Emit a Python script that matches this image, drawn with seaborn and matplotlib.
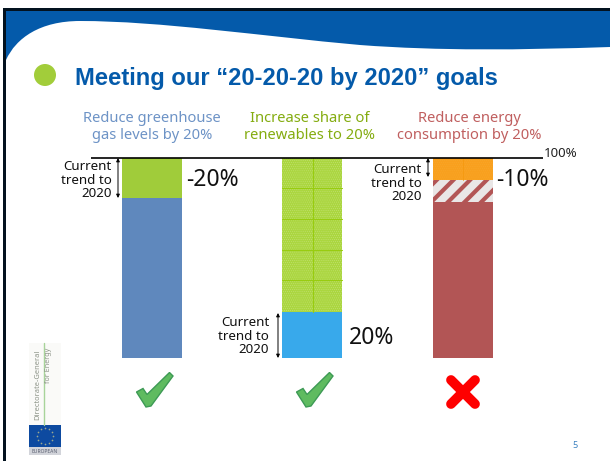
import numpy as np
import seaborn as sns
import matplotlib.pyplot as plt
from matplotlib.path import Path
from matplotlib.patches import PathPatch, Ellipse, Rectangle

# chart values, percent of the 100% line
goal_names = ["Reduce greenhouse\ngas levels by 20%", "Increase share of\nrenewables to 20%", "Reduce energy\nconsumption by 20%"]
base_values = [80, 23, 78]
striped_values = [0, 0, 11]
top_values = [20, 77, 11]
change_labels = ["-20%", "20%", "-10%"]
trend_label = "Current\ntrend to\n2020"

BLUE = "#045aaa"
GOAL_COLORS = ["#6d93c6", "#84ac10", "#c05f5f"]
BASE_COLORS = ["#5f88bd", "#38a9eb", "#b25555"]
TOP_COLORS = ["#a0cc3a", "#abd640", "#f9a01e"]
BAR_CENTERS = [152, 312, 463]

sns.set_theme(style="white")
plt.rcParams['font.family'] = ['Noto Sans', 'DejaVu Sans']

fig = plt.figure(figsize=(6.10, 4.61), dpi=100)

# bar axes: x runs in figure pixels, y in percent (100% at y=158px, 0 at y=358px)
ax = fig.add_axes([0, (461 - 358) / 461, 1, 200 / 461])

for i, center in enumerate(BAR_CENTERS):
	sns.barplot(x=[center], y=[base_values[i]], color=BASE_COLORS[i], saturation=1, width=60, native_scale=True, linewidth=0, ax=ax)
	if striped_values[i] > 0:
		sns.barplot(x=[center], y=[striped_values[i]], bottom=base_values[i], color="#e9e6e6", saturation=1, width=60, native_scale=True,
					linewidth=0, edgecolor="#b25555", hatch="//", ax=ax)
		ax.patches[-1].set_hatch_linewidth(3.0)
	sns.barplot(x=[center], y=[top_values[i]], bottom=base_values[i] + striped_values[i], color=TOP_COLORS[i], saturation=1, width=60,
				native_scale=True, linewidth=0, ax=ax)
	top = ax.patches[-1]
	if i == 1:
		top.set_hatch("........")
		top.set_edgecolor("#c6e47a")
		top.set_hatch_linewidth(0.3)
	if i == 2:
		top.set_hatch("........")
		top.set_edgecolor("#f7a82e")
		top.set_hatch_linewidth(0.3)
ax.set_xlim(0, 610)
ax.set_ylim(0, 100)
ax.axis("off")

# overlay in pixel coordinates for the slide furniture and labels
ov = fig.add_axes([0, 0, 1, 1], facecolor="none")
ov.set_xlim(0, 610)
ov.set_ylim(461, 0)
ov.axis("off")

# slide frame and wave
ov.add_patch(Rectangle((3, 8), 607, 3, color="#03121f", lw=0))
ov.add_patch(Rectangle((3, 8), 3, 453, color="#03121f", lw=0))
wave = Path(
	[(6, 11), (610, 11), (610, 47), (520, 50), (440, 51), (360, 45), (260, 36), (160, 21), (80, 21), (40, 21), (16, 38), (6, 60), (6, 11), (6, 11)],
	[Path.MOVETO, Path.LINETO, Path.LINETO, Path.CURVE4, Path.CURVE4, Path.CURVE4, Path.CURVE4, Path.CURVE4, Path.CURVE4, Path.CURVE4, Path.CURVE4, Path.CURVE4, Path.LINETO, Path.CLOSEPOLY],
)
ov.add_patch(PathPatch(wave, facecolor=BLUE, lw=0))

# title
ov.add_patch(Ellipse((45, 75), 22, 22, color="#a2cd3a", lw=0))
ov.text(75, 79, "Meeting our \u201c20-20-20 by 2020\u201d goals", family="Liberation Sans", weight="bold", fontsize=17.1, color=BLUE, va="center", ha="left")

# goal headers
header_x = [152, 310, 469]
for x, name, color in zip(header_x, goal_names, GOAL_COLORS):
	ov.text(x, 127, name, color=color, fontsize=10.6, ha="center", va="center", linespacing=1.25)

# mesh lines of the middle bar and orange bar
for y in [188, 219, 250, 280]:
	ov.plot([282, 342], [y, y], color="#98cc10", lw=0.8)
ov.plot([312.5, 312.5], [158, 312], color="#98cc10", lw=0.8)
ov.plot([463, 463], [158, 180], color="#f59a10", lw=0.6)
ov.plot([91, 543], [158, 158], color="black", lw=1.2, solid_capstyle="butt")
ov.text(544, 153.5, "100%", fontsize=9.5, va="center", ha="left", color="#222222")

# current trend brackets
trend_arrows = [(118, 158, 198), (278, 313, 358), (428, 158, 177)]
trend_text = [(112, 180), (269, 336), (422, 183)]
for (x, y0, y1), (tx, ty) in zip(trend_arrows, trend_text):
	ov.annotate("", xy=(x, y0), xytext=(x, y1), arrowprops=dict(arrowstyle="<|-|>", color="black", lw=0.7, mutation_scale=5, shrinkA=0, shrinkB=0))
	ov.text(tx, ty, trend_label, fontsize=9.6, ha="right", va="center", linespacing=1.08, color="#111111")

change_pos = [(186, 180), (349, 338), (496, 180)]
for (x, y), label in zip(change_pos, change_labels):
	ov.text(x, y, label, fontsize=16.5, ha="left", va="center", color="#111111")

# check marks and cross
check = np.array([(296.5, 392), (303, 388.5), (307, 394.5), (329.5, 372.5), (333, 376), (311, 406), (306, 407)])
for dx in [-160, 0]:
	ov.fill(check[:, 0] + dx, check[:, 1], facecolor="#5fbb60", edgecolor="#3d9a55", lw=1)
ov.plot([451, 475], [380, 404], color="#fe0000", lw=7, solid_capstyle="round")
ov.plot([451, 475], [404, 380], color="#fe0000", lw=7, solid_capstyle="round")

# DG Energy logo
ov.add_patch(Rectangle((29, 343), 32, 82, color="#fafaf8", lw=0))
ov.plot([43.5, 43.5], [343, 425], color="#a8d49a", lw=1)
ov.text(38, 385, "Directorate-General", rotation=90, fontsize=5.4, color="#8d9488", ha="center", va="center")
ov.text(49, 365, "for Energy", rotation=90, fontsize=5.2, color="#8d9488", ha="center", va="center")
ov.add_patch(Rectangle((29, 425), 32, 22, color="#0d4aa0", lw=0))
ov.add_patch(Rectangle((29, 447), 32, 8, color="#d2d4da", lw=0))
angles = np.arange(12) * np.pi / 6
ov.scatter(45 + 8 * np.cos(angles), 436 + 8 * np.sin(angles), s=1.5, color="#9aa890", lw=0)
ov.text(45, 451, "EUROPEAN", fontsize=3.6, color="#5a5f70", ha="center", va="center")

ov.text(575.5, 445, "5", fontsize=6.5, color="#3a80c0", ha="center", va="center")

plt.savefig("out.png", dpi=100)
